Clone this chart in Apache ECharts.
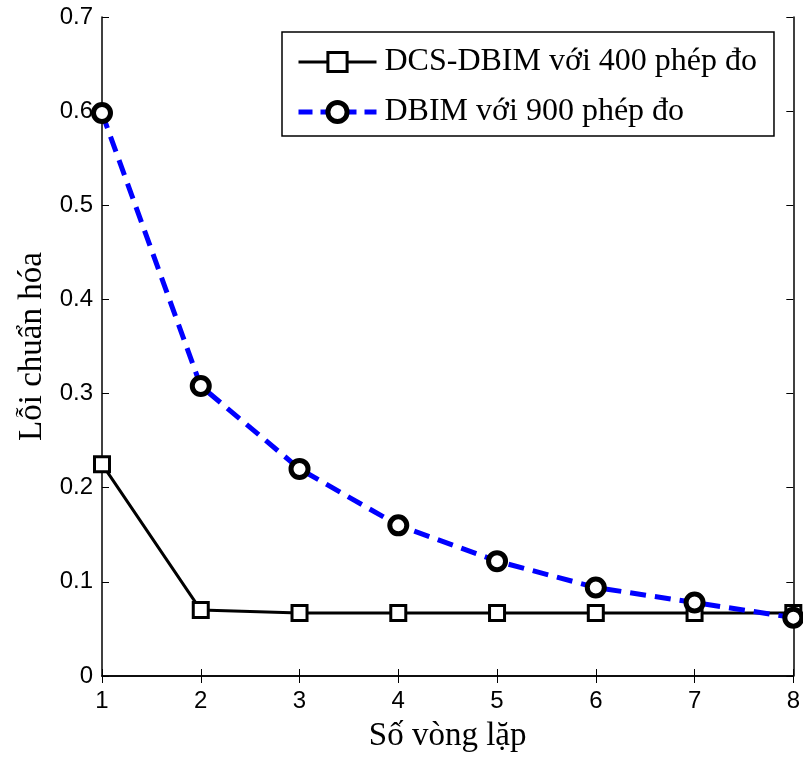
<!DOCTYPE html>
<html><head><meta charset="utf-8">
<script src="https://cdn.jsdelivr.net/npm/echarts@6/dist/echarts.min.js"></script>
<style>html,body{margin:0;padding:0;background:#fff}#c{width:803px;height:758px}</style>
</head><body><div id="c"></div>
<script>
const iterations = [1, 2, 3, 4, 5, 6, 7, 8];
const dcsDbim400 = [0.225, 0.070, 0.067, 0.067, 0.067, 0.067, 0.067, 0.067];
const dbim900 = [0.598, 0.308, 0.220, 0.160, 0.122, 0.094, 0.078, 0.062];
const seriesNames = ['DCS-DBIM với 400 phép đo', 'DBIM với 900 phép đo'];
const xTitle = 'Số vòng lặp';
const yTitle = 'Lỗi chuẩn hóa';

const chart = echarts.init(document.getElementById('c'));
const serif = 'Liberation Serif';
const sans = 'Liberation Sans';
const tickAxis = {
  axisLine: {show: true, lineStyle: {color: '#000', width: 1.5}},
  axisTick: {show: true, inside: true, length: 7, lineStyle: {color: '#000', width: 1}},
  splitLine: {show: false}
};
chart.setOption({
  animation: false,
  grid: {left: 102, top: 17, right: 8, bottom: 80, containLabel: false},
  legend: {
    left: 282, top: 32, orient: 'vertical',
    backgroundColor: '#fff', borderColor: '#000', borderWidth: 1.5, borderRadius: 0,
    padding: [14, 17, 8, 14],
    itemWidth: 78, itemHeight: 24, itemGap: 18,
    textStyle: {fontFamily: serif, fontSize: 32, color: '#000', padding: [0, 0, 0, 3]},
    data: [
      {name: seriesNames[0], itemStyle: {color: '#fff', borderColor: '#000', borderWidth: 3},
        lineStyle: {color: '#000', width: 3}},
      {name: seriesNames[1], itemStyle: {color: '#fff', borderColor: '#000', borderWidth: 5},
        lineStyle: {color: '#0000ff', width: 5, type: [14, 8]}}
    ]
  },
  xAxis: [
    Object.assign({type: 'value', min: 1, max: 8, interval: 1, position: 'bottom',
      name: xTitle, nameLocation: 'middle', nameGap: 44,
      nameTextStyle: {fontFamily: serif, fontSize: 33, color: '#000'},
      axisLabel: {fontFamily: sans, fontSize: 24, color: '#000', margin: 13}}, tickAxis),
    Object.assign({type: 'value', min: 1, max: 8, interval: 1, position: 'top',
      axisLabel: {show: false}}, tickAxis)
  ],
  yAxis: [
    Object.assign({type: 'value', min: 0, max: 0.7, interval: 0.1, position: 'left',
      name: yTitle, nameLocation: 'middle', nameGap: 37,
      nameTextStyle: {fontFamily: serif, fontSize: 33, color: '#000'},
      axisLabel: {fontFamily: sans, fontSize: 24, color: '#000', margin: 9}}, tickAxis),
    Object.assign({type: 'value', min: 0, max: 0.7, interval: 0.1, position: 'right',
      axisLabel: {show: false}}, tickAxis)
  ],
  series: [
    {
      name: seriesNames[0], type: 'line',
      data: iterations.map((x, i) => [x, dcsDbim400[i]]),
      symbol: 'rect', symbolSize: 15,
      lineStyle: {color: '#000', width: 3, type: 'solid'},
      itemStyle: {color: '#fff', borderColor: '#000', borderWidth: 3},
      z: 2
    },
    {
      name: seriesNames[1], type: 'line',
      data: iterations.map((x, i) => [x, dbim900[i]]),
      symbol: 'circle', symbolSize: 17,
      lineStyle: {color: '#0000ff', width: 5, type: [16, 9]},
      itemStyle: {color: '#fff', borderColor: '#000', borderWidth: 5},
      z: 3
    }
  ]
});
</script></body></html>
